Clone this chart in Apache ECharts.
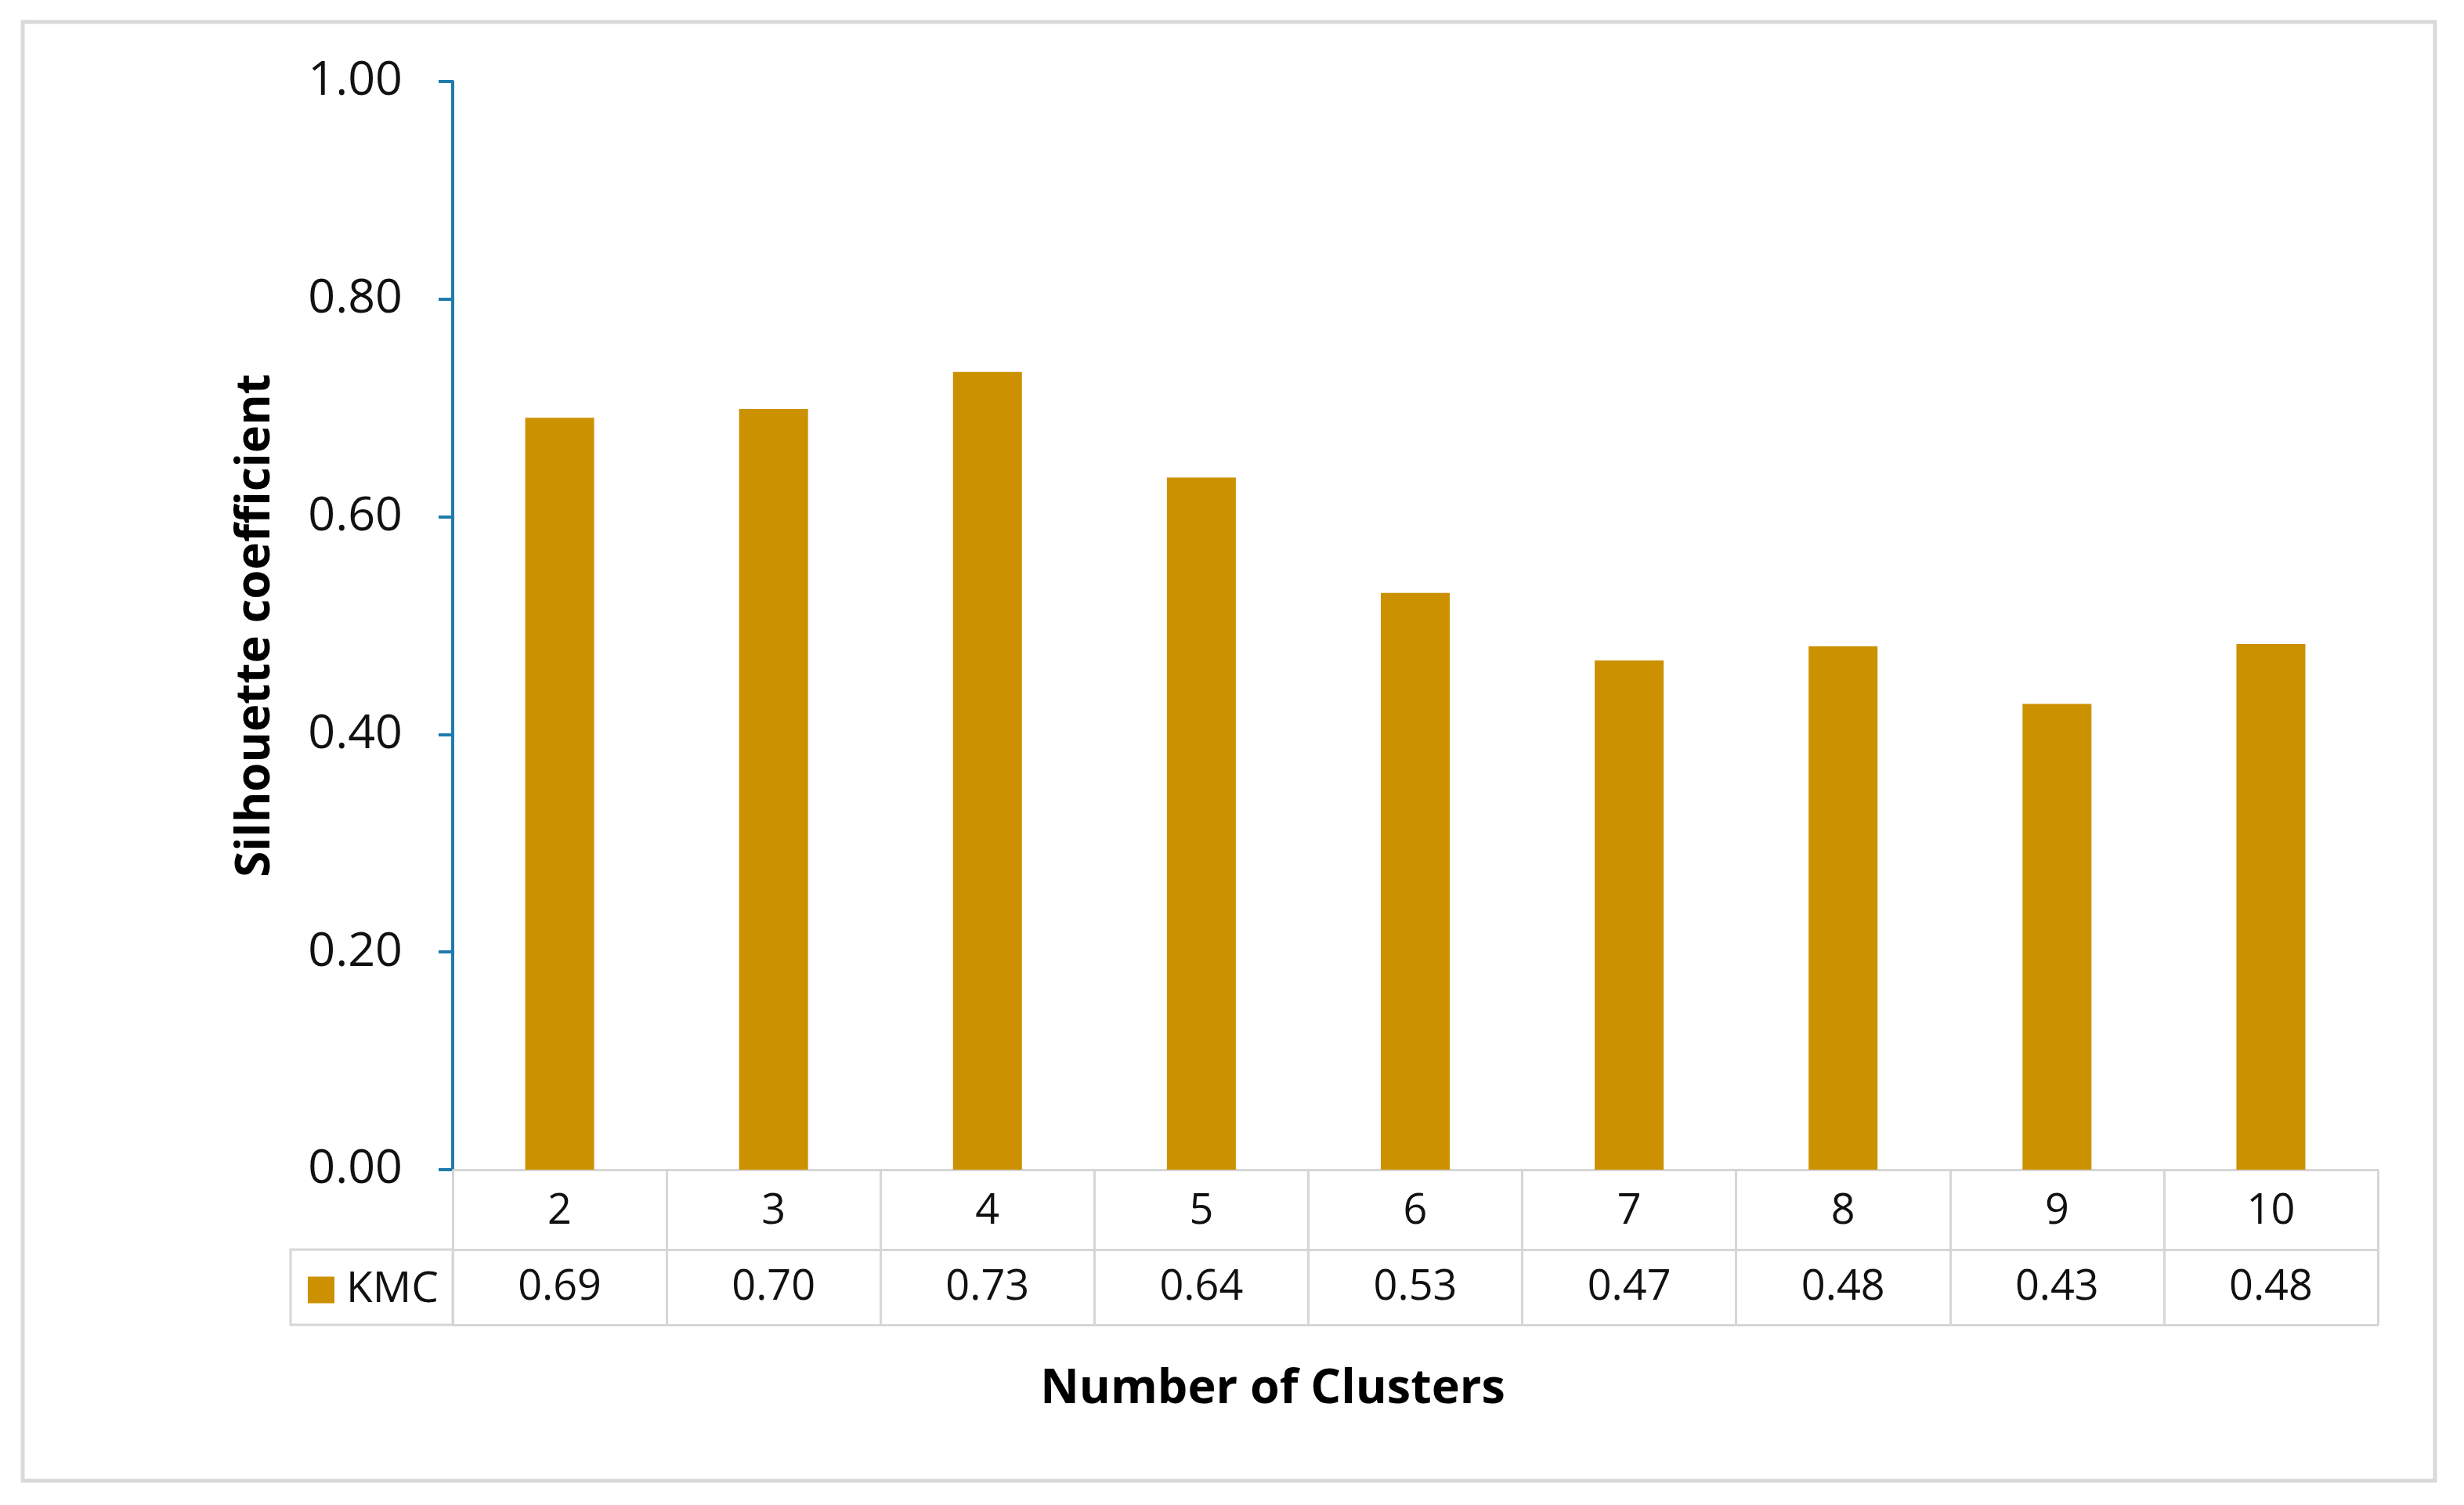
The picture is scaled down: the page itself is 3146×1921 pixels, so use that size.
<!DOCTYPE html>
<html>
<head>
<meta charset="utf-8">
<script src="https://cdn.jsdelivr.net/npm/echarts@6/dist/echarts.min.js"></script>
<style>
  html, body { margin: 0; padding: 0; background: #fff; }
  #main { width: 3146px; height: 1921px; }
</style>
</head>
<body>
<div id="main"></div>
<script>
var myChart = echarts.init(document.getElementById('main'));

// clusters and silhouette values
var clusters = ['2', '3', '4', '5', '6', '7', '8', '9', '10'];
var kmc = [0.691, 0.699, 0.733, 0.636, 0.530, 0.468, 0.481, 0.428, 0.483];
var yTicks = [0, 0.2, 0.4, 0.6, 0.8, 1.0];

var tableLabels = kmc.map(function (v) { return v.toFixed(2); });

var gridLine = '#d6d6d6';
var axisBlue = '#1f7bad';
var font = 'Open Sans';

var option = {
  animation: false,
  textStyle: { fontFamily: font },
  grid: { left: 578, right: 110, top: 104, bottom: 428 },
  legend: {
    data: ['KMC'],
    left: 388,
    top: 1614,
    icon: 'rect',
    itemWidth: 34,
    itemHeight: 34,
    textStyle: { fontSize: 55, color: '#111', fontFamily: font, padding: [0, 0, 0, 10] }
  },
  xAxis: [
    {
      type: 'category',
      data: clusters,
      position: 'bottom',
      axisLine: { lineStyle: { color: gridLine, width: 3 } },
      axisTick: { show: true, interval: 0, length: 198, lineStyle: { color: gridLine, width: 3 } },
      axisLabel: { fontSize: 54, color: '#111', margin: 54, verticalAlign: 'middle', interval: 0 }
    },
    {
      type: 'category',
      data: tableLabels,
      position: 'bottom',
      offset: 102,
      axisLine: { lineStyle: { color: gridLine, width: 3 } },
      axisTick: { show: false },
      axisLabel: { fontSize: 54, color: '#111', margin: 49, verticalAlign: 'middle', interval: 0 }
    },
    {
      type: 'category',
      data: clusters,
      position: 'bottom',
      offset: 198,
      axisLine: { lineStyle: { color: gridLine, width: 3 } },
      axisTick: { show: false },
      axisLabel: { show: false },
      name: 'Number of Clusters',
      nameLocation: 'middle',
      nameGap: 52,
      nameTextStyle: { fontSize: 61, fontWeight: 'bold', color: '#000', fontFamily: font, padding: [0, 364, 0, 0] }
    }
  ],
  yAxis: {
    type: 'value',
    min: 0,
    max: 1,
    interval: 0.2,
    axisLine: { show: true, lineStyle: { color: axisBlue, width: 4 } },
    axisTick: { show: true, length: 18, lineStyle: { color: axisBlue, width: 4 } },
    axisLabel: {
      fontSize: 61, color: '#111', margin: 64,
      formatter: function (v) { return v.toFixed(2); }
    },
    splitLine: { show: false },
    name: 'Silhouette coefficient',
    nameLocation: 'middle',
    nameGap: 221,
    nameTextStyle: { fontSize: 60, fontWeight: 'bold', color: '#000', fontFamily: font }
  },
  series: [
    {
      name: 'KMC',
      type: 'bar',
      data: kmc,
      barWidth: 88,
      itemStyle: { color: '#cc9100' }
    }
  ],
  graphic: [
    {
      type: 'rect',
      shape: { x: 29, y: 28, width: 3080, height: 1862 },
      style: { fill: 'none', stroke: '#d9d9d9', lineWidth: 5 },
      silent: true
    },
    {
      type: 'rect',
      shape: { x: 371, y: 1595, width: 207, height: 96 },
      style: { fill: 'none', stroke: gridLine, lineWidth: 3 },
      silent: true
    }
  ]
};
myChart.setOption(option);
</script>
</body>
</html>
